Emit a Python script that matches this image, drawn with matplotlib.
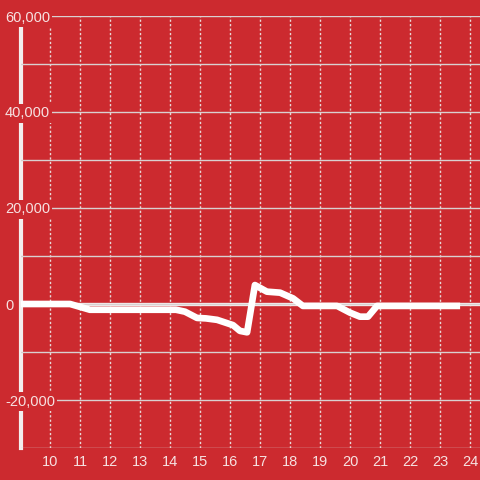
import matplotlib
matplotlib.use("Agg")
import matplotlib.pyplot as plt
from matplotlib.ticker import FuncFormatter

# Data
hours = [9.0, 10.67, 11.33, 14.2, 14.5, 14.9, 15.2, 15.57, 16.1, 16.33, 16.57,
         16.83, 17.23, 17.67, 18.1, 18.43, 19.57, 20.0, 20.33, 20.6, 20.9, 23.67]
values = [0, 0, -1200, -1200, -1600, -2900, -3000, -3300, -4400, -5600, -5900,
          3950, 2570, 2360, 1180, -400, -400, -1800, -2640, -2640, -400, -400]
x_ticks = list(range(10, 25))
y_major = [-20000, 0, 20000, 40000, 60000]
y_minor = [-30000, -10000, 10000, 30000, 50000]

BG = "#cc2a2f"
TXT = "#f6e1e1"

plt.rcParams['font.family'] = ['Liberation Sans', 'DejaVu Sans']
fig = plt.figure(figsize=(4.8, 4.8), dpi=100, facecolor=BG)
ax = fig.add_axes([21/480, 32/480, 459/480, 432/480], facecolor=BG)
ax.set_xlim(9.0333, 24.3333)
ax.set_ylim(-30000, 60000)

ax.set_xticks(x_ticks)
ax.set_yticks(y_major)
ax.set_yticks(y_minor, minor=True)
ax.yaxis.set_major_formatter(FuncFormatter(lambda v, p: f"{int(v):,}"))

ax.grid(axis='x', which='major', color='#e8d8d8', linestyle=(0, (1.6, 1.6)), linewidth=1)
ax.grid(axis='y', which='both', color='#d9d0d0', linestyle='-', linewidth=1)

for s in ['top', 'right', 'bottom']:
    ax.spines[s].set_visible(False)
ax.spines['left'].set_color('#f3eeee')
ax.spines['left'].set_linewidth(3)
ax.spines['left'].set_zorder(2)

ax.tick_params(axis='both', which='both', length=0, colors=TXT, labelsize=10.5)
ax.tick_params(axis='x', pad=5)
ax.tick_params(axis='y', pad=11.5)
for lab in ax.get_yticklabels():
    lab.set_horizontalalignment('left')
    lab.set_bbox(dict(facecolor=BG, edgecolor='none', pad=1.5))
ax.yaxis.set_zorder(3)

ax.axhline(0, color='#f3eeee', linewidth=2.4, zorder=3)
ax.plot(hours, values, color='white', linewidth=4.8, solid_joinstyle='round',
        solid_capstyle='butt', zorder=4, clip_on=True)

fig.savefig("out.png", dpi=100, facecolor=BG)
